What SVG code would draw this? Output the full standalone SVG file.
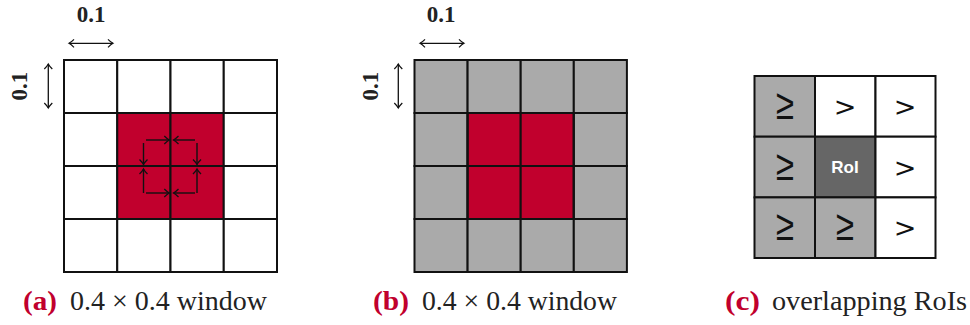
<svg xmlns="http://www.w3.org/2000/svg" width="970" height="325" viewBox="0 0 970 325">
<defs>
<style>
.cell{stroke:#111;stroke-width:2}
.w{fill:#fff}
.r{fill:#c1002d}
.g{fill:#aaaaaa}
.d{fill:#666666}
.dim{stroke:#111;stroke-width:1.3;fill:none;marker-start:url(#oh);marker-end:url(#oh)}
.ia{stroke:#111;stroke-width:1.4;fill:none;marker-end:url(#ih)}
.lbl{font-family:"Liberation Serif","DejaVu Serif",serif;font-weight:bold;font-size:23px;fill:#222}
.cap{font-family:"Liberation Serif","DejaVu Serif",serif;font-size:26.5px;fill:#222}
.capl{font-weight:bold;fill:#c1002d}
.sym{font-family:"DejaVu Sans","Liberation Sans",sans-serif;font-size:27px;fill:#111;text-anchor:middle}
.ge{font-family:"Liberation Sans",Arial,sans-serif;font-size:33px;fill:#111;text-anchor:middle}
.roi{font-family:"Liberation Sans",Arial,sans-serif;font-weight:bold;font-size:17px;fill:#fff;text-anchor:middle}
</style>
<marker id="oh" viewBox="-6 -5 8 10" refX="0" refY="0" markerWidth="8" markerHeight="10" markerUnits="userSpaceOnUse" orient="auto-start-reverse">
<path d="M-5,-4 Q-2,-1 0,0 Q-2,1 -5,4" stroke="#111" stroke-width="1.2" fill="none"/>
</marker>
<marker id="ih" viewBox="-6 -5 8 10" refX="0" refY="0" markerWidth="8" markerHeight="10" markerUnits="userSpaceOnUse" orient="auto">
<path d="M-5,-4 Q-2,-1 0,0 Q-2,1 -5,4" stroke="#111" stroke-width="1.3" fill="none"/>
</marker>
</defs>

<g id="panel-a">
<rect class="cell w" x="64" y="60" width="53.25" height="53"/>
<rect class="cell w" x="117.25" y="60" width="53.25" height="53"/>
<rect class="cell w" x="170.5" y="60" width="53.25" height="53"/>
<rect class="cell w" x="223.75" y="60" width="53.25" height="53"/>
<rect class="cell w" x="64" y="113" width="53.25" height="53"/>
<rect class="cell r" x="117.25" y="113" width="53.25" height="53"/>
<rect class="cell r" x="170.5" y="113" width="53.25" height="53"/>
<rect class="cell w" x="223.75" y="113" width="53.25" height="53"/>
<rect class="cell w" x="64" y="166" width="53.25" height="53"/>
<rect class="cell r" x="117.25" y="166" width="53.25" height="53"/>
<rect class="cell r" x="170.5" y="166" width="53.25" height="53"/>
<rect class="cell w" x="223.75" y="166" width="53.25" height="53"/>
<rect class="cell w" x="64" y="219" width="53.25" height="53"/>
<rect class="cell w" x="117.25" y="219" width="53.25" height="53"/>
<rect class="cell w" x="170.5" y="219" width="53.25" height="53"/>
<rect class="cell w" x="223.75" y="219" width="53.25" height="53"/>
<text class="lbl" x="91" y="22" text-anchor="middle">0.1</text>
<text class="lbl" transform="translate(27,86) rotate(-90)" text-anchor="middle">0.1</text>
</g>

<g id="panel-b">
<rect class="cell g" x="414.5" y="60" width="53.1" height="53"/>
<rect class="cell g" x="467.6" y="60" width="53.1" height="53"/>
<rect class="cell g" x="520.7" y="60" width="53.1" height="53"/>
<rect class="cell g" x="573.8" y="60" width="53.1" height="53"/>
<rect class="cell g" x="414.5" y="113" width="53.1" height="53"/>
<rect class="cell r" x="467.6" y="113" width="53.1" height="53"/>
<rect class="cell r" x="520.7" y="113" width="53.1" height="53"/>
<rect class="cell g" x="573.8" y="113" width="53.1" height="53"/>
<rect class="cell g" x="414.5" y="166" width="53.1" height="53"/>
<rect class="cell r" x="467.6" y="166" width="53.1" height="53"/>
<rect class="cell r" x="520.7" y="166" width="53.1" height="53"/>
<rect class="cell g" x="573.8" y="166" width="53.1" height="53"/>
<rect class="cell g" x="414.5" y="219" width="53.1" height="53"/>
<rect class="cell g" x="467.6" y="219" width="53.1" height="53"/>
<rect class="cell g" x="520.7" y="219" width="53.1" height="53"/>
<rect class="cell g" x="573.8" y="219" width="53.1" height="53"/>
<line x1="467.6" y1="113" x2="467.6" y2="219" stroke="#111" stroke-width="2"/>
<line x1="573.8" y1="113" x2="573.8" y2="219" stroke="#111" stroke-width="2"/>
<line x1="467.6" y1="219" x2="573.8" y2="219" stroke="#111" stroke-width="2"/>
<text class="lbl" x="441" y="22" text-anchor="middle">0.1</text>
<text class="lbl" transform="translate(378,86) rotate(-90)" text-anchor="middle">0.1</text>
</g>

<g id="panel-c">
<rect class="cell g" x="754.5" y="76" width="60.5" height="60.7"/>
<rect class="cell w" x="815" y="76" width="60.5" height="60.7"/>
<rect class="cell w" x="875.5" y="76" width="60" height="60.7"/>
<rect class="cell g" x="754.5" y="136.7" width="60.5" height="60.7"/>
<rect class="cell d" x="815" y="136.7" width="60.5" height="60.7"/>
<rect class="cell w" x="875.5" y="136.7" width="60" height="60.7"/>
<rect class="cell g" x="754.5" y="197.4" width="60.5" height="60.6"/>
<rect class="cell g" x="815" y="197.4" width="60.5" height="60.6"/>
<rect class="cell w" x="875.5" y="197.4" width="60" height="60.6"/>
<text class="ge" transform="translate(785,119) scale(1,1.3)">≥</text>
<text class="sym" x="845" y="116">&gt;</text>
<text class="sym" x="905" y="116">&gt;</text>
<text class="ge" transform="translate(785,180) scale(1,1.3)">≥</text>
<text class="roi" x="845" y="173">RoI</text>
<text class="sym" x="905" y="177">&gt;</text>
<text class="ge" transform="translate(785,240) scale(1,1.3)">≥</text>
<text class="ge" transform="translate(845,240) scale(1,1.3)">≥</text>
<text class="sym" x="905" y="237">&gt;</text>
</g>

<g id="connectors">
<line class="dim" x1="69" y1="43.3" x2="113" y2="43.3"/>
<line class="dim" x1="48.3" y1="64" x2="48.3" y2="108"/>
<line class="dim" x1="420" y1="43.3" x2="464" y2="43.3"/>
<line class="dim" x1="398.3" y1="64" x2="398.3" y2="108"/>
<line class="ia" x1="146" y1="140" x2="169.3" y2="140"/>
<line class="ia" x1="195" y1="140" x2="173.5" y2="140"/>
<line class="ia" x1="146" y1="193" x2="169.3" y2="193"/>
<line class="ia" x1="195" y1="193" x2="173.5" y2="193"/>
<line class="ia" x1="143.5" y1="143" x2="143.5" y2="164.5"/>
<line class="ia" x1="143.5" y1="193" x2="143.5" y2="169"/>
<line class="ia" x1="197" y1="143" x2="197" y2="164.5"/>
<line class="ia" x1="197" y1="193" x2="197" y2="169"/>
</g>

<g id="captions">
<text class="cap capl" x="23" y="310" textLength="34" lengthAdjust="spacingAndGlyphs">(a)</text>
<text class="cap" x="70" y="310" textLength="197" lengthAdjust="spacingAndGlyphs">0.4 × 0.4 window</text>
<text class="cap capl" x="373" y="310" textLength="36" lengthAdjust="spacingAndGlyphs">(b)</text>
<text class="cap" x="422" y="310" textLength="195" lengthAdjust="spacingAndGlyphs">0.4 × 0.4 window</text>
<text class="cap capl" x="725" y="310" textLength="35" lengthAdjust="spacingAndGlyphs">(c)</text>
<text class="cap" x="772" y="310" textLength="195" lengthAdjust="spacingAndGlyphs">overlapping RoIs</text>
</g>
</svg>
